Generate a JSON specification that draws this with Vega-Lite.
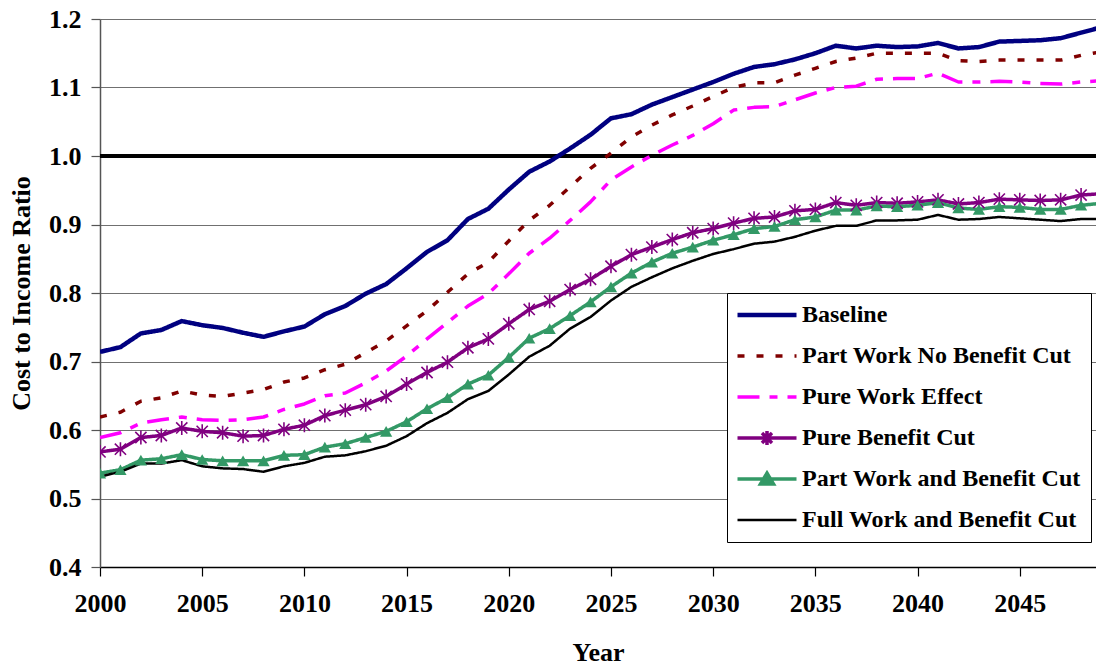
{
  "$schema": "https://vega.github.io/schema/vega-lite/v6.json",
  "width": 996,
  "height": 548,
  "autosize": {"type": "none"},
  "padding": {"left": 100, "top": 19, "right": 0, "bottom": 98},
  "background": "white",
  "config": {"font": "Liberation Serif", "view": {"stroke": null}},
  "data": {"values": [
    {"year": 2000, "Baseline": 0.714, "Part Work No Benefit Cut": 0.619, "Pure Work Effect": 0.589, "Pure Benefit Cut": 0.568, "Part Work and Benefit Cut": 0.537, "Full Work and Benefit Cut": 0.532},
    {"year": 2001, "Baseline": 0.721, "Part Work No Benefit Cut": 0.626, "Pure Work Effect": 0.596, "Pure Benefit Cut": 0.572, "Part Work and Benefit Cut": 0.542, "Full Work and Benefit Cut": 0.539},
    {"year": 2002, "Baseline": 0.741, "Part Work No Benefit Cut": 0.642, "Pure Work Effect": 0.610, "Pure Benefit Cut": 0.589, "Part Work and Benefit Cut": 0.556, "Full Work and Benefit Cut": 0.551},
    {"year": 2003, "Baseline": 0.746, "Part Work No Benefit Cut": 0.647, "Pure Work Effect": 0.615, "Pure Benefit Cut": 0.592, "Part Work and Benefit Cut": 0.558, "Full Work and Benefit Cut": 0.551},
    {"year": 2004, "Baseline": 0.759, "Part Work No Benefit Cut": 0.657, "Pure Work Effect": 0.619, "Pure Benefit Cut": 0.603, "Part Work and Benefit Cut": 0.564, "Full Work and Benefit Cut": 0.556},
    {"year": 2005, "Baseline": 0.753, "Part Work No Benefit Cut": 0.651, "Pure Work Effect": 0.615, "Pure Benefit Cut": 0.598, "Part Work and Benefit Cut": 0.557, "Full Work and Benefit Cut": 0.547},
    {"year": 2006, "Baseline": 0.749, "Part Work No Benefit Cut": 0.649, "Pure Work Effect": 0.614, "Pure Benefit Cut": 0.596, "Part Work and Benefit Cut": 0.555, "Full Work and Benefit Cut": 0.544},
    {"year": 2007, "Baseline": 0.742, "Part Work No Benefit Cut": 0.654, "Pure Work Effect": 0.615, "Pure Benefit Cut": 0.591, "Part Work and Benefit Cut": 0.555, "Full Work and Benefit Cut": 0.543},
    {"year": 2008, "Baseline": 0.736, "Part Work No Benefit Cut": 0.659, "Pure Work Effect": 0.619, "Pure Benefit Cut": 0.592, "Part Work and Benefit Cut": 0.555, "Full Work and Benefit Cut": 0.539},
    {"year": 2009, "Baseline": 0.744, "Part Work No Benefit Cut": 0.670, "Pure Work Effect": 0.630, "Pure Benefit Cut": 0.601, "Part Work and Benefit Cut": 0.563, "Full Work and Benefit Cut": 0.547},
    {"year": 2010, "Baseline": 0.751, "Part Work No Benefit Cut": 0.676, "Pure Work Effect": 0.638, "Pure Benefit Cut": 0.607, "Part Work and Benefit Cut": 0.564, "Full Work and Benefit Cut": 0.552},
    {"year": 2011, "Baseline": 0.769, "Part Work No Benefit Cut": 0.688, "Pure Work Effect": 0.650, "Pure Benefit Cut": 0.621, "Part Work and Benefit Cut": 0.575, "Full Work and Benefit Cut": 0.561},
    {"year": 2012, "Baseline": 0.781, "Part Work No Benefit Cut": 0.696, "Pure Work Effect": 0.654, "Pure Benefit Cut": 0.629, "Part Work and Benefit Cut": 0.580, "Full Work and Benefit Cut": 0.563},
    {"year": 2013, "Baseline": 0.799, "Part Work No Benefit Cut": 0.713, "Pure Work Effect": 0.669, "Pure Benefit Cut": 0.637, "Part Work and Benefit Cut": 0.589, "Full Work and Benefit Cut": 0.569},
    {"year": 2014, "Baseline": 0.813, "Part Work No Benefit Cut": 0.730, "Pure Work Effect": 0.686, "Pure Benefit Cut": 0.649, "Part Work and Benefit Cut": 0.598, "Full Work and Benefit Cut": 0.577},
    {"year": 2015, "Baseline": 0.836, "Part Work No Benefit Cut": 0.752, "Pure Work Effect": 0.708, "Pure Benefit Cut": 0.667, "Part Work and Benefit Cut": 0.612, "Full Work and Benefit Cut": 0.591},
    {"year": 2016, "Baseline": 0.860, "Part Work No Benefit Cut": 0.774, "Pure Work Effect": 0.733, "Pure Benefit Cut": 0.684, "Part Work and Benefit Cut": 0.631, "Full Work and Benefit Cut": 0.610},
    {"year": 2017, "Baseline": 0.877, "Part Work No Benefit Cut": 0.801, "Pure Work Effect": 0.757, "Pure Benefit Cut": 0.699, "Part Work and Benefit Cut": 0.647, "Full Work and Benefit Cut": 0.625},
    {"year": 2018, "Baseline": 0.908, "Part Work No Benefit Cut": 0.828, "Pure Work Effect": 0.781, "Pure Benefit Cut": 0.720, "Part Work and Benefit Cut": 0.667, "Full Work and Benefit Cut": 0.645},
    {"year": 2019, "Baseline": 0.923, "Part Work No Benefit Cut": 0.845, "Pure Work Effect": 0.799, "Pure Benefit Cut": 0.733, "Part Work and Benefit Cut": 0.680, "Full Work and Benefit Cut": 0.657},
    {"year": 2020, "Baseline": 0.951, "Part Work No Benefit Cut": 0.876, "Pure Work Effect": 0.828, "Pure Benefit Cut": 0.755, "Part Work and Benefit Cut": 0.706, "Full Work and Benefit Cut": 0.681},
    {"year": 2021, "Baseline": 0.977, "Part Work No Benefit Cut": 0.906, "Pure Work Effect": 0.858, "Pure Benefit Cut": 0.776, "Part Work and Benefit Cut": 0.734, "Full Work and Benefit Cut": 0.707},
    {"year": 2022, "Baseline": 0.992, "Part Work No Benefit Cut": 0.928, "Pure Work Effect": 0.880, "Pure Benefit Cut": 0.788, "Part Work and Benefit Cut": 0.748, "Full Work and Benefit Cut": 0.723},
    {"year": 2023, "Baseline": 1.011, "Part Work No Benefit Cut": 0.955, "Pure Work Effect": 0.906, "Pure Benefit Cut": 0.805, "Part Work and Benefit Cut": 0.767, "Full Work and Benefit Cut": 0.748},
    {"year": 2024, "Baseline": 1.031, "Part Work No Benefit Cut": 0.982, "Pure Work Effect": 0.933, "Pure Benefit Cut": 0.820, "Part Work and Benefit Cut": 0.787, "Full Work and Benefit Cut": 0.765},
    {"year": 2025, "Baseline": 1.055, "Part Work No Benefit Cut": 1.004, "Pure Work Effect": 0.965, "Pure Benefit Cut": 0.839, "Part Work and Benefit Cut": 0.809, "Full Work and Benefit Cut": 0.789},
    {"year": 2026, "Baseline": 1.061, "Part Work No Benefit Cut": 1.028, "Pure Work Effect": 0.984, "Pure Benefit Cut": 0.856, "Part Work and Benefit Cut": 0.829, "Full Work and Benefit Cut": 0.809},
    {"year": 2027, "Baseline": 1.075, "Part Work No Benefit Cut": 1.045, "Pure Work Effect": 1.001, "Pure Benefit Cut": 0.867, "Part Work and Benefit Cut": 0.845, "Full Work and Benefit Cut": 0.823},
    {"year": 2028, "Baseline": 1.086, "Part Work No Benefit Cut": 1.060, "Pure Work Effect": 1.016, "Pure Benefit Cut": 0.878, "Part Work and Benefit Cut": 0.858, "Full Work and Benefit Cut": 0.836},
    {"year": 2029, "Baseline": 1.097, "Part Work No Benefit Cut": 1.073, "Pure Work Effect": 1.030, "Pure Benefit Cut": 0.888, "Part Work and Benefit Cut": 0.867, "Full Work and Benefit Cut": 0.847},
    {"year": 2030, "Baseline": 1.108, "Part Work No Benefit Cut": 1.087, "Pure Work Effect": 1.047, "Pure Benefit Cut": 0.894, "Part Work and Benefit Cut": 0.877, "Full Work and Benefit Cut": 0.857},
    {"year": 2031, "Baseline": 1.120, "Part Work No Benefit Cut": 1.100, "Pure Work Effect": 1.067, "Pure Benefit Cut": 0.902, "Part Work and Benefit Cut": 0.885, "Full Work and Benefit Cut": 0.864},
    {"year": 2032, "Baseline": 1.130, "Part Work No Benefit Cut": 1.107, "Pure Work Effect": 1.071, "Pure Benefit Cut": 0.909, "Part Work and Benefit Cut": 0.894, "Full Work and Benefit Cut": 0.872},
    {"year": 2033, "Baseline": 1.134, "Part Work No Benefit Cut": 1.107, "Pure Work Effect": 1.072, "Pure Benefit Cut": 0.911, "Part Work and Benefit Cut": 0.897, "Full Work and Benefit Cut": 0.875},
    {"year": 2034, "Baseline": 1.141, "Part Work No Benefit Cut": 1.118, "Pure Work Effect": 1.082, "Pure Benefit Cut": 0.920, "Part Work and Benefit Cut": 0.907, "Full Work and Benefit Cut": 0.882},
    {"year": 2035, "Baseline": 1.150, "Part Work No Benefit Cut": 1.128, "Pure Work Effect": 1.092, "Pure Benefit Cut": 0.922, "Part Work and Benefit Cut": 0.911, "Full Work and Benefit Cut": 0.891},
    {"year": 2036, "Baseline": 1.161, "Part Work No Benefit Cut": 1.138, "Pure Work Effect": 1.100, "Pure Benefit Cut": 0.932, "Part Work and Benefit Cut": 0.921, "Full Work and Benefit Cut": 0.898},
    {"year": 2037, "Baseline": 1.157, "Part Work No Benefit Cut": 1.143, "Pure Work Effect": 1.102, "Pure Benefit Cut": 0.928, "Part Work and Benefit Cut": 0.921, "Full Work and Benefit Cut": 0.898},
    {"year": 2038, "Baseline": 1.161, "Part Work No Benefit Cut": 1.150, "Pure Work Effect": 1.112, "Pure Benefit Cut": 0.932, "Part Work and Benefit Cut": 0.927, "Full Work and Benefit Cut": 0.906},
    {"year": 2039, "Baseline": 1.159, "Part Work No Benefit Cut": 1.150, "Pure Work Effect": 1.113, "Pure Benefit Cut": 0.931, "Part Work and Benefit Cut": 0.926, "Full Work and Benefit Cut": 0.906},
    {"year": 2040, "Baseline": 1.160, "Part Work No Benefit Cut": 1.150, "Pure Work Effect": 1.113, "Pure Benefit Cut": 0.933, "Part Work and Benefit Cut": 0.928, "Full Work and Benefit Cut": 0.907},
    {"year": 2041, "Baseline": 1.165, "Part Work No Benefit Cut": 1.150, "Pure Work Effect": 1.121, "Pure Benefit Cut": 0.936, "Part Work and Benefit Cut": 0.932, "Full Work and Benefit Cut": 0.914},
    {"year": 2042, "Baseline": 1.157, "Part Work No Benefit Cut": 1.139, "Pure Work Effect": 1.108, "Pure Benefit Cut": 0.930, "Part Work and Benefit Cut": 0.924, "Full Work and Benefit Cut": 0.907},
    {"year": 2043, "Baseline": 1.159, "Part Work No Benefit Cut": 1.138, "Pure Work Effect": 1.108, "Pure Benefit Cut": 0.932, "Part Work and Benefit Cut": 0.922, "Full Work and Benefit Cut": 0.908},
    {"year": 2044, "Baseline": 1.167, "Part Work No Benefit Cut": 1.140, "Pure Work Effect": 1.109, "Pure Benefit Cut": 0.937, "Part Work and Benefit Cut": 0.926, "Full Work and Benefit Cut": 0.911},
    {"year": 2045, "Baseline": 1.168, "Part Work No Benefit Cut": 1.140, "Pure Work Effect": 1.108, "Pure Benefit Cut": 0.936, "Part Work and Benefit Cut": 0.925, "Full Work and Benefit Cut": 0.909},
    {"year": 2046, "Baseline": 1.169, "Part Work No Benefit Cut": 1.140, "Pure Work Effect": 1.106, "Pure Benefit Cut": 0.935, "Part Work and Benefit Cut": 0.922, "Full Work and Benefit Cut": 0.907},
    {"year": 2047, "Baseline": 1.172, "Part Work No Benefit Cut": 1.140, "Pure Work Effect": 1.105, "Pure Benefit Cut": 0.936, "Part Work and Benefit Cut": 0.922, "Full Work and Benefit Cut": 0.905},
    {"year": 2048, "Baseline": 1.180, "Part Work No Benefit Cut": 1.147, "Pure Work Effect": 1.108, "Pure Benefit Cut": 0.943, "Part Work and Benefit Cut": 0.928, "Full Work and Benefit Cut": 0.908},
    {"year": 2049, "Baseline": 1.188, "Part Work No Benefit Cut": 1.152, "Pure Work Effect": 1.110, "Pure Benefit Cut": 0.945, "Part Work and Benefit Cut": 0.931, "Full Work and Benefit Cut": 0.908}
  ]},
  "transform": [
    {"fold": ["Baseline", "Part Work No Benefit Cut", "Pure Work Effect", "Pure Benefit Cut", "Part Work and Benefit Cut", "Full Work and Benefit Cut"], "as": ["series", "value"]}
  ],
  "encoding": {
    "x": {
      "field": "year", "type": "quantitative",
      "scale": {"domain": [2000, 2048.73], "nice": false, "zero": false},
      "axis": {
        "values": [2000, 2005, 2010, 2015, 2020, 2025, 2030, 2035, 2040, 2045],
        "format": "d", "title": "Year", "grid": false,
        "domainColor": "black", "domainWidth": 1.5,
        "tickColor": "black", "tickSize": 9, "tickWidth": 1.2,
        "labelFont": "Liberation Serif", "labelFontSize": 26, "labelFontWeight": "bold", "labelColor": "black",
        "labelPadding": 14, "labelFlush": false, "labelOverlap": false,
        "titleFont": "Liberation Serif", "titleFontSize": 26, "titleFontWeight": "bold", "titleColor": "black", "titlePadding": 23
      }
    },
    "y": {
      "field": "value", "type": "quantitative",
      "scale": {"domain": [0.4, 1.2], "nice": false, "zero": false},
      "axis": {
        "values": [0.4, 0.5, 0.6, 0.7, 0.8, 0.9, 1.0, 1.1, 1.2],
        "format": ".1f", "title": "Cost to Income Ratio",
        "grid": true, "gridColor": "#707070", "gridWidth": 1.2,
        "domainColor": "#555555", "domainWidth": 1.5,
        "tickColor": "#555555", "tickSize": 9, "tickWidth": 1.2,
        "labelFont": "Liberation Serif", "labelFontSize": 26, "labelFontWeight": "bold", "labelColor": "black",
        "labelPadding": 10,
        "titleFont": "Liberation Serif", "titleFontSize": 26, "titleFontWeight": "bold", "titleColor": "black", "titlePadding": 14
      }
    }
  },
  "layer": [
    {
      "mark": {"type": "rule", "color": "black", "strokeWidth": 3.5},
      "encoding": {"y": {"datum": 1.0}, "x": null}
    },
    {
      "mark": {"type": "line", "clip": true, "strokeCap": "butt", "strokeJoin": "round"},
      "encoding": {
        "color": {
          "field": "series", "type": "nominal",
          "scale": {
            "domain": ["Baseline", "Part Work No Benefit Cut", "Pure Work Effect", "Pure Benefit Cut", "Part Work and Benefit Cut", "Full Work and Benefit Cut"],
            "range": ["#000080", "#800000", "#ff00ff", "#800080", "#339966", "#000000"]
          },
          "legend": {
            "title": null, "orient": "none", "legendX": 627, "legendY": 274, "direction": "vertical",
            "fillColor": "white", "strokeColor": "black", "padding": 10,
            "symbolType": "stroke", "symbolSize": 3481, "symbolStrokeWidth": 3.5, "symbolOffset": 18,
            "labelFont": "Liberation Serif", "labelFontSize": 24, "labelFontWeight": "bold", "labelColor": "black",
            "labelOffset": 23, "rowPadding": 17, "clipHeight": 24, "labelLimit": 600,
            "encode": {
              "symbols": {
                "update": {
                  "shape": {"signal": "datum.value === 'Pure Benefit Cut' ? 'M-1,0H1M0,-0.24V0.24M-0.17,-0.17L0.17,0.17M-0.17,0.17L0.17,-0.17' : datum.value === 'Part Work and Benefit Cut' ? 'M-1,0H1M0,-0.2L0.22,0.17L-0.22,0.17Z' : 'M-1,0H1'"},
                  "fill": {"signal": "datum.value === 'Part Work and Benefit Cut' ? '#339966' : 'transparent'"},
                  "strokeWidth": {"signal": "datum.value === 'Baseline' ? 4.5 : datum.value === 'Full Work and Benefit Cut' ? 2.5 : 3.5"}
                }
              }
            }
          }
        },
        "strokeDash": {
          "field": "series", "type": "nominal",
          "scale": {
            "domain": ["Baseline", "Part Work No Benefit Cut", "Pure Work Effect", "Pure Benefit Cut", "Part Work and Benefit Cut", "Full Work and Benefit Cut"],
            "range": [[1, 0], [7, 12], [22, 10, 8, 10], [1, 0], [1, 0], [1, 0]]
          },
          "legend": {
            "title": null, "orient": "none", "legendX": 627, "legendY": 274, "direction": "vertical",
            "fillColor": "white", "strokeColor": "black", "padding": 10,
            "symbolType": "stroke", "symbolSize": 3481, "symbolStrokeWidth": 3.5, "symbolOffset": 18,
            "labelFont": "Liberation Serif", "labelFontSize": 24, "labelFontWeight": "bold", "labelColor": "black",
            "labelOffset": 23, "rowPadding": 17, "clipHeight": 24, "labelLimit": 600,
            "encode": {
              "symbols": {
                "update": {
                  "shape": {"signal": "datum.value === 'Pure Benefit Cut' ? 'M-1,0H1M0,-0.24V0.24M-0.17,-0.17L0.17,0.17M-0.17,0.17L0.17,-0.17' : datum.value === 'Part Work and Benefit Cut' ? 'M-1,0H1M0,-0.2L0.22,0.17L-0.22,0.17Z' : 'M-1,0H1'"},
                  "fill": {"signal": "datum.value === 'Part Work and Benefit Cut' ? '#339966' : 'transparent'"},
                  "strokeWidth": {"signal": "datum.value === 'Baseline' ? 4.5 : datum.value === 'Full Work and Benefit Cut' ? 2.5 : 3.5"}
                }
              }
            }
          }
        },
        "strokeWidth": {
          "condition": [
            {"test": "datum.series === 'Baseline'", "value": 4.5},
            {"test": "datum.series === 'Full Work and Benefit Cut'", "value": 2.5}
          ],
          "value": 3.5
        },
        "order": {"field": "year"}
      }
    },
    {
      "transform": [{"filter": "datum.series === 'Pure Benefit Cut' && datum.year < 2049"}],
      "mark": {"type": "point", "shape": "M0,-1V1M-0.8,-0.8L0.8,0.8M-0.8,0.8L0.8,-0.8", "size": 196, "filled": false, "strokeWidth": 1.6, "color": "#800080", "opacity": 1, "clip": true}
    },
    {
      "transform": [{"filter": "datum.series === 'Part Work and Benefit Cut' && datum.year < 2049"}],
      "mark": {"type": "point", "shape": "triangle-up", "size": 150, "filled": true, "color": "#339966", "opacity": 1, "clip": true}
    }
  ]
}
